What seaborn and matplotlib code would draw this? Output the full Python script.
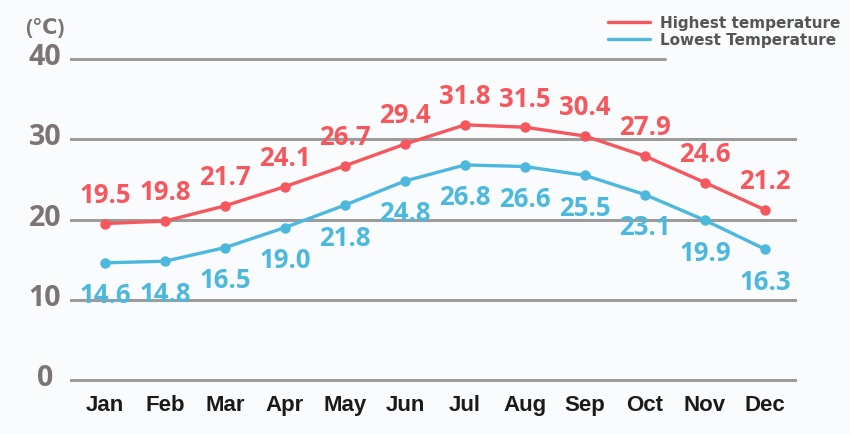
import pandas as pd
import seaborn as sns
import matplotlib.pyplot as plt
import matplotlib.transforms as mtransforms
from matplotlib.lines import Line2D

months = ["Jan", "Feb", "Mar", "Apr", "May", "Jun", "Jul", "Aug", "Sep", "Oct", "Nov", "Dec"]
highest = [19.5, 19.8, 21.7, 24.1, 26.7, 29.4, 31.8, 31.5, 30.4, 27.9, 24.6, 21.2]
lowest = [14.6, 14.8, 16.5, 19.0, 21.8, 24.8, 26.8, 26.6, 25.5, 23.1, 19.9, 16.3]
y_ticks = [0, 10, 20, 30, 40]

red = "#f5575c"
blue = "#4cb8dd"
grid_col = "#9c9c9c"
bg = "#f9fbfd"

df = pd.DataFrame({
    "month": months * 2,
    "temp": highest + lowest,
    "series": ["Highest temperature"] * 12 + ["Lowest Temperature"] * 12,
})

sns.set_style("white")
plt.rcParams["font.family"] = ["Open Sans", "DejaVu Sans"]

fig = plt.figure(figsize=(8.5, 4.35), dpi=100, facecolor=bg)
ax = fig.add_axes([70 / 850, 46 / 435, 727 / 850, 337 / 435])
ax.set_facecolor(bg)

# gridlines, the top one is shorter
for y in y_ticks[:-1]:
    ax.axhline(y, color=grid_col, lw=2.2, zorder=0)
ax.axhline(y_ticks[-1], xmin=0, xmax=0.818, color=grid_col, lw=2.2, zorder=0)

sns.lineplot(data=df, x="month", y="temp", hue="series",
             palette=[red, blue], marker="o", markersize=7.5,
             markeredgewidth=0, linewidth=2.4, legend=False, ax=ax)

for i, v in enumerate(highest):
    ax.annotate(f"{v:.1f}", (i, v), xytext=(0, 21), textcoords="offset points",
                ha="center", va="center", color=red, fontsize=18.5,
                fontweight="bold")
for i, v in enumerate(lowest):
    ax.annotate(f"{v:.1f}", (i, v), xytext=(0, -23), textcoords="offset points",
                ha="center", va="center", color=blue, fontsize=18.5,
                fontweight="bold")

ax.set_xlim(-0.583, 11.533)
ax.set_ylim(-1, 41)
ax.set_yticks([])
ax.set_xticks(range(12))
ax.set_xticklabels(months, fontsize=16, fontweight="bold",
                   family="Liberation Sans", color="#1a1a1a")
ax.tick_params(axis="x", length=0, pad=4)
ax.set_xlabel("")
ax.set_ylabel("")
sns.despine(ax=ax, left=True, bottom=True)

trans = mtransforms.blended_transform_factory(fig.transFigure, ax.transData)
for y in y_ticks:
    ax.text(45 / 850, y + 0.3, str(y), transform=trans, ha="center", va="center",
            fontsize=20.5, fontweight="bold", color="#7a7573")
fig.text(45 / 850, 1 - 29 / 435, "(℃)", ha="center", va="center",
         fontsize=15, fontweight="bold", color="#7a7573")

handles = [Line2D([], [], color=red, lw=2.4), Line2D([], [], color=blue, lw=2.4)]
fig.legend(handles, ["Highest temperature", "Lowest Temperature"],
           loc="upper right", bbox_to_anchor=(840 / 850, 1 - 16 / 435),
           frameon=False, handlelength=2.8, handletextpad=0.6,
           labelspacing=0.15, borderpad=0, borderaxespad=0,
           prop={"family": "DejaVu Sans", "weight": "bold", "size": 11},
           labelcolor="#555555")

fig.savefig("out.png", dpi=100, facecolor=bg)
